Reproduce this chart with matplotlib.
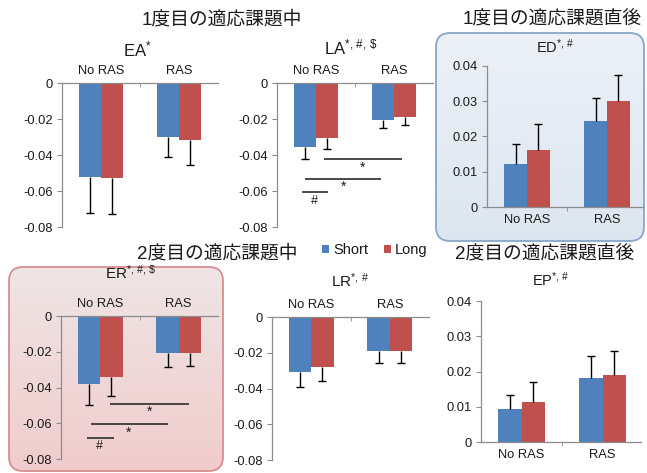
import matplotlib
matplotlib.use('Agg')
import matplotlib.pyplot as plt
import numpy as np
from matplotlib.patches import FancyBboxPatch
from matplotlib.ticker import FuncFormatter

plt.rcParams['font.family'] = ['Liberation Sans', 'Noto Sans CJK JP', 'DejaVu Sans']
plt.rcParams['axes.unicode_minus'] = False
plt.rcParams['mathtext.fontset'] = 'custom'
plt.rcParams['mathtext.rm'] = 'Liberation Sans'
plt.rcParams['mathtext.it'] = 'Liberation Sans:italic'
plt.rcParams['mathtext.bf'] = 'Liberation Sans:bold'

W, H = 647, 473

# ---------------- data ----------------
categories = ['No RAS', 'RAS']
series = ['Short', 'Long']
colors = ['#4f81bd', '#c0504d']

EA_short = [-0.052, -0.030];   EA_short_err = [0.020, 0.011]
EA_long = [-0.053, -0.0315];   EA_long_err = [0.020, 0.014]

LA_short = [-0.0355, -0.0205]; LA_short_err = [0.0065, 0.0045]
LA_long = [-0.0305, -0.019];   LA_long_err = [0.006, 0.0045]

ED_short = [0.0123, 0.0245];   ED_short_err = [0.0057, 0.0065]
ED_long = [0.0162, 0.030];     ED_long_err = [0.0073, 0.0075]

ER_short = [-0.038, -0.0205];  ER_short_err = [0.012, 0.008]
ER_long = [-0.034, -0.0205];   ER_long_err = [0.011, 0.0075]

LR_short = [-0.031, -0.019];   LR_short_err = [0.008, 0.0067]
LR_long = [-0.028, -0.019];    LR_long_err = [0.008, 0.0065]

EP_short = [0.0093, 0.0182];   EP_short_err = [0.004, 0.0062]
EP_long = [0.0113, 0.019];     EP_long_err = [0.0057, 0.0067]

neg_ticks = [0, -0.02, -0.04, -0.06, -0.08]
pos_ticks = [0, 0.01, 0.02, 0.03, 0.04]

# significance brackets: (x0, x1, y, label, label_x, label_y)
LA_sig = [(0.10, 1.10, -0.042, '*', 0.60, -0.0472),
          (-0.14, 0.83, -0.0535, '*', 0.35, -0.0578),
          (-0.18, 0.15, -0.0607, '#', -0.02, -0.0656)]
ER_sig = [(0.13, 1.13, -0.049, '*', 0.63, -0.0537),
          (-0.115, 0.86, -0.0605, '*', 0.36, -0.0655),
          (-0.167, 0.18, -0.068, '#', -0.01, -0.0727)]

# ---------------- figure ----------------
fig = plt.figure(figsize=(W / 100, H / 100), dpi=100)

bg = fig.add_axes([0, 0, 1, 1], zorder=-5)
bg.axis('off')


def gbox(x0, y0, x1, y1, ctop, cbot, edge):
    patch = FancyBboxPatch((x0, y0), x1 - x0, y1 - y0,
                           boxstyle='round,pad=0,rounding_size=14',
                           fc='none', ec=edge, lw=1.3, zorder=2)
    bg.add_patch(patch)
    g = np.linspace(0, 1, 256)[:, None, None]
    ct = np.array(matplotlib.colors.to_rgb(ctop))[None, None, :]
    cb = np.array(matplotlib.colors.to_rgb(cbot))[None, None, :]
    img = (1 - g) * ct + g * cb
    im = bg.imshow(img, extent=(x0, x1, y1, y0), aspect='auto', zorder=1,
                   interpolation='bilinear')
    im.set_clip_path(patch)


gbox(436, 33, 644, 241, '#ecf1f7', '#dde6f0', '#87a6c9')
gbox(9, 267, 223, 471, '#efe5e5', '#f1cccc', '#d88d90')
bg.set_xlim(0, W)
bg.set_ylim(H, 0)

SPINE = '#8c8c8c'
TXT = '#1a1a1a'
bw = 0.285


def make_ax(left, top, w, bottom):
    return fig.add_axes([left / W, 1 - bottom / H, w / W, (bottom - top) / H])


def fmt(v, pos):
    return '0' if v == 0 else ('%g' % v)


def panel(ax, short, short_err, long_, long_err, negative, xmax=1.5):
    x = np.arange(len(categories))
    z = np.zeros(len(categories))
    for i, (vals, errs) in enumerate([(short, short_err), (long_, long_err)]):
        yerr = [errs, z] if negative else [z, errs]
        cont = ax.bar(x + (i - 0.5) * bw, vals, bw, color=colors[i],
                      label=series[i], yerr=yerr, zorder=2,
                      error_kw=dict(ecolor='black', elinewidth=1.0,
                                    capsize=2.6, capthick=1.0, zorder=3))
        # hide the cap sitting on the bar end (one-sided error bars)
        for cl in cont.errorbar.lines[1]:
            yd = np.asarray(cl.get_ydata(), dtype=float)
            if np.allclose(yd, np.asarray(vals, dtype=float)):
                cl.set_visible(False)
    ax.set_facecolor('none')
    ax.set_xlim(-0.5, xmax)
    for s in ax.spines.values():
        s.set_color(SPINE)
        s.set_linewidth(0.9)
    ax.spines['right'].set_visible(False)
    if negative:
        ax.set_ylim(-0.08, 0)
        ax.set_yticks(neg_ticks)
        ax.spines['bottom'].set_visible(False)
        ax.xaxis.tick_top()
        ax.set_xticks(x, categories)
        ax.set_xticks([0.5], minor=True)
        ax.tick_params(axis='x', which='major', length=0, pad=4,
                       labelsize=9.3, labelcolor=TXT)
        ax.tick_params(axis='x', which='minor', direction='in', length=3,
                       color=SPINE, top=True, bottom=False)
    else:
        ax.set_ylim(0, 0.04)
        ax.set_yticks(pos_ticks)
        ax.spines['top'].set_visible(False)
        ax.set_xticks(x, categories)
        ax.set_xticks([0.5], minor=True)
        ax.tick_params(axis='x', which='major', length=0, pad=5,
                       labelsize=9.3, labelcolor=TXT)
        ax.tick_params(axis='x', which='minor', direction='out', length=3,
                       color=SPINE)
    ax.yaxis.set_major_formatter(FuncFormatter(fmt))
    ax.tick_params(axis='y', direction='out', length=3.5, color=SPINE,
                   labelsize=9.3, labelcolor=TXT, pad=3)


def sig(ax, items):
    for x0, x1, y, lab, lx, ly in items:
        ax.plot([x0, x1], [y, y], color='#3a3a3a', lw=1.3, clip_on=False,
                solid_capstyle='butt', zorder=4)
        ax.text(lx, ly, lab, ha='center', va='center',
                fontsize=10 if lab == '*' else 9, color=TXT, zorder=4)


def ptext(x, y, s, size, **kw):
    fig.text(x / W, 1 - y / H, s, ha='center', va='center', fontsize=size,
             color=TXT, **kw)


ax1 = make_ax(62, 83, 156, 227)
panel(ax1, EA_short, EA_short_err, EA_long, EA_long_err, True)

ax2 = make_ax(277, 83, 156, 227)
panel(ax2, LA_short, LA_short_err, LA_long, LA_long_err, True)
sig(ax2, LA_sig)

ax3 = make_ax(487, 66, 156, 207)
panel(ax3, ED_short, ED_short_err, ED_long, ED_long_err, False, xmax=1.45)

ax4 = make_ax(61, 316, 157, 459)
panel(ax4, ER_short, ER_short_err, ER_long, ER_long_err, True)
sig(ax4, ER_sig)

ax5 = make_ax(272, 317, 157, 460)
panel(ax5, LR_short, LR_short_err, LR_long, LR_long_err, True)

ax6 = make_ax(481, 301, 160, 442)
panel(ax6, EP_short, EP_short_err, EP_long, EP_long_err, False, xmax=1.475)

# section headings
ptext(222, 20, '1度目の適応課題中', 13.5)
ptext(552, 20, '1度目の適応課題直後', 13.5)
ptext(217, 254, '2度目の適応課題中', 13.5)
ptext(545, 255, '2度目の適応課題直後', 13.5)

# panel titles
ptext(137, 49, r'EA$^{\mathrm{*}}$', 12)
ptext(351, 47, r'LA$^{\mathrm{*,\,\#,\,\$}}$', 12)
ptext(555, 47, r'ED$^{\mathrm{*,\,\#}}$', 10.5)
ptext(131, 273, r'ER$^{\mathrm{*,\,\#,\,\$}}$', 11)
ptext(350, 281, r'LR$^{\mathrm{*,\,\#}}$', 11)
ptext(551, 280, r'EP$^{\mathrm{*,\,\#}}$', 10.5)

# legend
handles, labels = ax5.get_legend_handles_labels()
leg = fig.legend(handles, labels, loc='center left',
                 bbox_to_anchor=(322 / W, 1 - 250 / H), ncol=2, frameon=False,
                 fontsize=10.5, handlelength=0.5, handleheight=0.5,
                 handletextpad=0.25, columnspacing=1.1, borderpad=0,
                 borderaxespad=0)
for t in leg.get_texts():
    t.set_color(TXT)

fig.savefig('out.png', dpi=100)
